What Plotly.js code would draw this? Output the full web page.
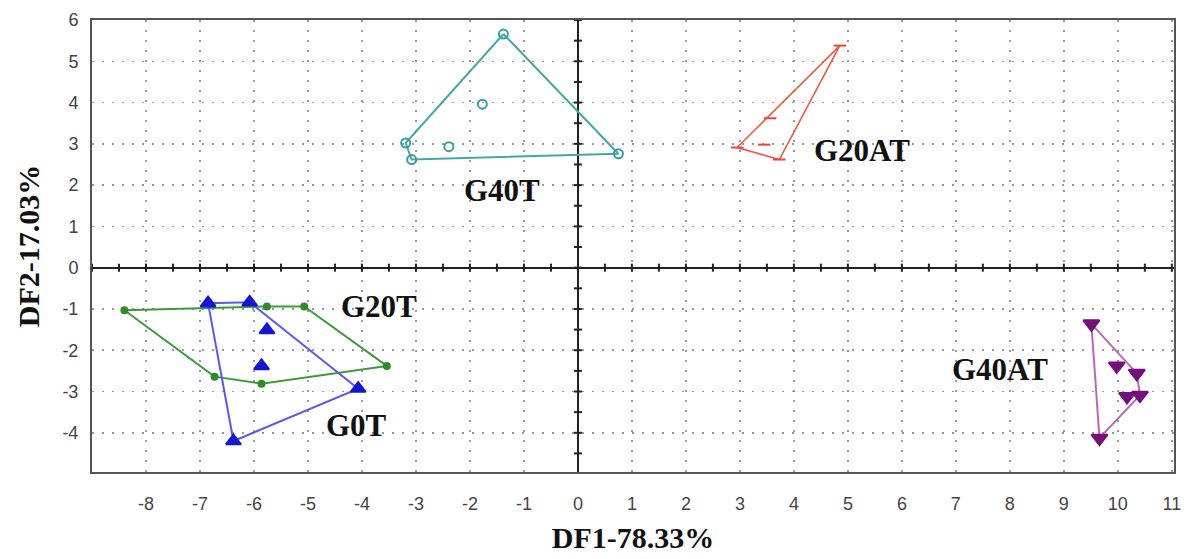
<!DOCTYPE html>
<html>
<head>
<meta charset="utf-8">
<script src="https://cdn.plot.ly/plotly-3.0.1.min.js"></script>
<style>html,body{margin:0;padding:0;background:#fff;}#chart{width:1200px;height:559px;}</style>
</head>
<body>
<div id="chart"></div>
<script>
// Group names
const groupNames = ["G40T", "G20AT", "G20T", "G0T", "G40AT"];

// Discriminant scores (DF1, DF2) per group
const g40tX = [-1.38, 0.75, -3.08, -3.19, -1.77, -2.39];
const g40tY = [5.66, 2.76, 2.62, 3.02, 3.96, 2.93];
const g40tHull = [0, 1, 2, 3, 0];

const g20atX = [4.85, 2.95, 3.73, 3.56, 3.45];
const g20atY = [5.38, 2.91, 2.62, 3.62, 2.98];
const g20atHull = [0, 1, 2, 0];

const g20tX = [-8.40, -5.76, -5.07, -3.54, -5.86, -6.73];
const g20tY = [-1.03, -0.94, -0.94, -2.38, -2.81, -2.64];
const g20tHull = [0, 1, 2, 3, 4, 5, 0];

const g0tX = [-6.85, -6.08, -4.07, -6.38, -5.76, -5.86];
const g0tY = [-0.86, -0.84, -2.93, -4.20, -1.51, -2.38];
const g0tHull = [0, 1, 2, 3, 0];

const g40atX = [9.51, 9.98, 10.35, 10.17, 10.41, 9.66];
const g40atY = [-1.36, -2.38, -2.56, -3.12, -3.09, -4.13];
const g40atHull = [0, 2, 4, 5, 0];

// Group label positions (DF1, DF2)
const labelX = [-1.41, 5.26, -3.68, -4.10, 7.81];
const labelY = [1.88, 2.85, -0.95, -3.83, -2.46];

// Axis ticks
const xTicks = [-8, -7, -6, -5, -4, -3, -2, -1, 0, 1, 2, 3, 4, 5, 6, 7, 8, 9, 10, 11];
const yTicks = [-4, -3, -2, -1, 0, 1, 2, 3, 4, 5, 6];

const groups = [
  {x: g40tX, y: g40tY, hull: g40tHull, line: "#45a8a8", mcol: "#3a9e9e", sym: "circle-open", size: 9, lw: 2},
  {x: g20atX, y: g20atY, hull: g20atHull, line: "#ec5a44", mcol: "#e84a36", sym: "line-ew", size: 9, lw: 1.6},
  {x: g20tX, y: g20tY, hull: g20tHull, line: "#3f9a3f", mcol: "#2f8a2f", sym: "circle", size: 6, lw: 2},
  {x: g0tX, y: g0tY, hull: g0tHull, line: "#5a5ae6", mcol: "#1515d0", sym: "triangle-up", size: 13, lw: 2},
  {x: g40atX, y: g40atY, hull: g40atHull, line: "#b66ab8", mcol: "#74107a", sym: "triangle-down", size: 14, lw: 2}
];

const traces = [];
groups.forEach((g, i) => {
  traces.push({
    type: "scatter", mode: "lines", name: groupNames[i] + " hull",
    x: g.hull.map(k => g.x[k]), y: g.hull.map(k => g.y[k]),
    line: {color: g.line, width: g.lw}, hoverinfo: "skip", showlegend: false
  });
  traces.push({
    type: "scatter", mode: "markers", name: groupNames[i],
    x: g.x, y: g.y,
    marker: {symbol: g.sym, size: g.size, color: g.mcol, line: {color: g.mcol, width: 2}},
    showlegend: false
  });
});

const annotations = groupNames.map((n, i) => ({
  x: labelX[i], y: labelY[i], xref: "x", yref: "y", text: n, showarrow: false,
  font: {family: "Liberation Serif, Times New Roman, serif", size: 31, color: "#111", weight: "bold"}
}));

// small tick marks along the zero lines
const shapes = [];
for (let v = -9; v <= 11; v += 0.5) {
  shapes.push({type: "line", xref: "x", yref: "y", ysizemode: "pixel", yanchor: 0,
    x0: v, x1: v, y0: -4, y1: 4, line: {color: "#222", width: 2}, layer: "above"});
}
for (let v = -4.5; v <= 6; v += 0.5) {
  shapes.push({type: "line", xref: "x", yref: "y", xsizemode: "pixel", xanchor: 0,
    x0: -4, x1: 4, y0: v, y1: v, line: {color: "#222", width: 2}, layer: "above"});
}

const tickFont = {family: "Liberation Sans Narrow, Liberation Sans, Arial, sans-serif", size: 18, color: "#444"};
const titleFont = {family: "Liberation Serif, Times New Roman, serif", size: 30, color: "#111", weight: "bold"};

const layout = {
  width: 1200, height: 559,
  margin: {l: 92, r: 26, t: 20, b: 87},
  paper_bgcolor: "#fff", plot_bgcolor: "#fff",
  showlegend: false,
  xaxis: {
    range: [-9, 11.04], tickvals: xTicks, ticktext: xTicks.map(String),
    tickfont: tickFont, ticks: "", ticklabelstandoff: 14,
    showgrid: true, gridcolor: "#9a9a9a", gridwidth: 1.5, griddash: "2px,8px",
    zeroline: true, zerolinecolor: "#222", zerolinewidth: 2,
    showline: true, linecolor: "#555", linewidth: 2, mirror: true,
    title: {text: "DF1-78.33%", font: titleFont, standoff: 14}
  },
  yaxis: {
    range: [-4.95, 6], tickvals: yTicks, ticktext: yTicks.map(String),
    tickfont: tickFont, ticks: "", ticklabelstandoff: 8,
    showgrid: true, gridcolor: "#9a9a9a", gridwidth: 1.5, griddash: "2px,8px",
    zeroline: true, zerolinecolor: "#222", zerolinewidth: 2,
    showline: true, linecolor: "#555", linewidth: 2, mirror: true,
    title: {text: "DF2-17.03%", font: titleFont, standoff: 14}
  },
  annotations: annotations,
  shapes: shapes
};

Plotly.newPlot("chart", traces, layout, {displayModeBar: false, staticPlot: true});
</script>
</body>
</html>
